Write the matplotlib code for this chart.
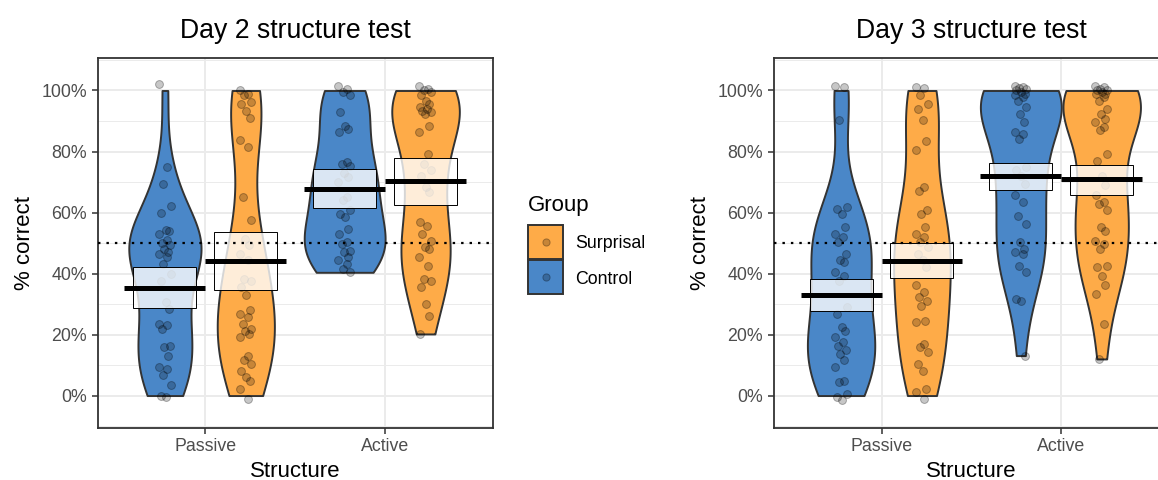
import numpy as np
import matplotlib.pyplot as plt
from matplotlib.patches import Rectangle
from matplotlib.lines import Line2D
from matplotlib.ticker import FuncFormatter

plt.rcParams['font.family'] = ['Liberation Sans', 'DejaVu Sans']

structures = ['Passive', 'Active']
groups = ['Control', 'Surprisal']
legend_order = ['Surprisal', 'Control']
titles = ['Day 2 structure test', 'Day 3 structure test']
colors = {'Control': '#4A87C8', 'Surprisal': '#FEAB48'}

# individual scores (% correct)
d2_passive_control = [102.0, 75.0, 69.4, 62.0, 60.0, 54.3, 53.9, 53.0, 51.0, 50.0, 49.2, 48.0, 47.0, 46.4, 45.4,
                      43.2, 39.9, 37.7, 30.6, 28.4, 23.5, 23.0, 21.9, 16.4, 15.8, 12.9, 9.5, 8.7, 6.6, 3.3,
                      0.0, -0.5]
d2_passive_surprisal = [100.0, 98.9, 98.4, 96.2, 95.6, 93.4, 91.0, 83.9, 81.4, 65.0, 57.6, 51.4, 49.2, 46.4, 44.3,
                        38.3, 37.7, 35.5, 32.8, 27.9, 26.8, 25.7, 23.5, 21.9, 21.3, 20.2, 19.1, 13.1, 11.5, 10.4,
                        8.2, 6.0, 4.9, 2.2, -1.1]
d2_active_control = [101.6, 100.5, 99.5, 98.4, 92.9, 88.5, 87.4, 86.3, 76.5, 76.0, 75.4, 73.0, 71.5, 69.9,
                     65.0, 64.0, 60.7, 59.6, 58.5, 54.6, 53.0, 50.3, 49.7, 47.5, 47.0, 45.4, 44.3, 43.2,
                     41.5, 40.4]
d2_active_surprisal = [101.6, 100.5, 100.0, 99.5, 98.4, 96.7, 95.6, 94.5, 93.9, 93.4, 92.9, 92.3, 88.5, 86.3,
                       79.2, 76.0, 73.8, 72.1, 68.3, 66.7, 56.8, 55.7, 53.0, 50.8, 48.6, 48.1, 45.4, 42.6,
                       38.3, 37.7, 35.5, 30.0, 26.2, 20.2]
d3_passive_control = [101.6, 101.1, 90.2, 61.7, 61.2, 59.6, 55.4, 53.0, 51.9, 50.3, 46.4, 44.3, 43.7, 40.4,
                      39.3, 37.7, 29.0, 26.8, 22.4, 21.3, 19.1, 17.5, 16.4, 14.8, 13.7, 11.5, 9.3, 4.9, 4.4,
                      0.5, -0.5, -1.6]
d3_passive_surprisal = [101.3, 100.9, 98.4, 95.6, 94.0, 90.2, 83.6, 80.5, 68.5, 67.2, 60.7, 59.6, 55.2, 53.0,
                        51.9, 50.3, 48.6, 46.4, 44.3, 42.1, 36.1, 33.9, 32.2, 31.1, 29.5, 24.6, 24.0, 16.9,
                        15.8, 14.2, 10.4, 8.2, 2.2, 1.1, -1.1]
d3_active_control = [101.6, 101.1, 100.9, 100.5, 100.0, 99.5, 99.0, 98.4, 97.8, 96.7, 94.5, 92.3, 89.6, 86.3,
                     85.8, 84.2, 74.9, 73.8, 72.1, 69.4, 65.6, 63.4, 59.0, 56.3, 50.3, 48.1, 47.0, 46.4,
                     42.6, 40.4, 31.7, 31.1, 13.1]
d3_active_surprisal = [101.6, 101.1, 100.5, 100.0, 100.0, 99.5, 99.0, 98.9, 97.8, 96.7, 94.0, 92.3, 90.7, 89.6,
                       88.0, 86.9, 79.2, 77.0, 72.1, 68.9, 65.6, 63.4, 62.8, 60.7, 55.2, 54.1, 50.8, 49.7,
                       48.1, 42.6, 42.1, 39.3, 36.1, 33.3, 23.5, 12.0]

# group means and interval bounds, order: Passive-Control, Passive-Surprisal, Active-Control, Active-Surprisal
d2_means = [35.3, 44.0, 67.7, 70.3]
d2_low = [28.6, 34.6, 61.4, 62.6]
d2_high = [42.2, 53.5, 74.2, 78.0]
d3_means = [32.9, 44.2, 71.9, 70.9]
d3_low = [27.6, 38.4, 67.4, 65.9]
d3_high = [38.2, 50.0, 76.3, 75.6]

chance = 50

panels = [
    {'scores': [d2_passive_control, d2_passive_surprisal, d2_active_control, d2_active_surprisal],
     'means': d2_means, 'low': d2_low, 'high': d2_high},
    {'scores': [d3_passive_control, d3_passive_surprisal, d3_active_control, d3_active_surprisal],
     'means': d3_means, 'low': d3_low, 'high': d3_high},
]

jit = np.array([-1.0, 0.4, -0.3, 0.9, -0.7, 0.1, 0.6, -0.9, 0.3, -0.5, 0.8, -0.1, 0.5]) * 0.035
pt_face = (0, 0, 0, 0.22)
pt_edge = (0, 0, 0, 0.3)


def kde(vals):
    v = np.clip(np.asarray(vals, float), 0, 100)
    n = len(v)
    iqr = np.subtract(*np.percentile(v, [75, 25]))
    bw = 0.9 * min(v.std(ddof=1), iqr / 1.34) * n ** -0.2
    y = np.linspace(v.min(), v.max(), 512)
    d = np.exp(-0.5 * ((y[:, None] - v[None, :]) / bw) ** 2).sum(1) / (n * bw * np.sqrt(2 * np.pi))
    return y, d


fig = plt.figure(figsize=(11.58, 4.8), dpi=100)
ax_pos = [[0.0842, 0.1092, 0.3415, 0.769], [0.6681, 0.1092, 0.3415, 0.769]]

for p, panel in enumerate(panels):
    ax = fig.add_axes(ax_pos[p])
    curves = [kde(s) for s in panel['scores']]
    dmax = max(c[1].max() for c in curves)
    k = 0
    for i, st in enumerate(structures):
        for j, g in enumerate(groups):
            xc = i + 1 + (-0.225 if j == 0 else 0.225)
            y, d = curves[k]
            hw = 0.225 * d / dmax
            ax.fill_betweenx(y, xc - hw, xc + hw, facecolor=colors[g], edgecolor='#333333',
                             lw=1.4, zorder=2)
            s = np.asarray(panel['scores'][k])
            xs = xc + np.resize(jit, len(s))
            ax.scatter(xs, s, s=32, facecolor=pt_face, edgecolor=pt_edge, lw=0.7, zorder=3)
            lo, hi = panel['low'][k], panel['high'][k]
            ax.add_patch(Rectangle((xc - 0.175, lo), 0.35, hi - lo, facecolor=(1, 1, 1, 0.8),
                                   edgecolor='black', lw=0.7, zorder=4))
            ax.plot([xc - 0.225, xc + 0.225], [panel['means'][k]] * 2, color='black',
                    lw=3.6, solid_capstyle='butt', zorder=5)
            k += 1

    ax.axhline(chance, color='black', lw=1.6, ls=(0, (1.1, 2.7)), zorder=6)

    ax.set_xlim(0.4, 2.6)
    ax.set_ylim(-10.5, 110.5)
    ax.set_xticks([1, 2])
    ax.set_xticklabels(structures)
    ax.set_yticks([0, 20, 40, 60, 80, 100])
    ax.set_yticks([-10, 10, 30, 50, 70, 90, 110], minor=True)
    ax.yaxis.set_major_formatter(FuncFormatter(lambda v, _: f'{int(v)}%'))
    ax.grid(True, which='major', color='#EBEBEB', lw=1.4, zorder=0)
    ax.grid(True, which='minor', axis='y', color='#EBEBEB', lw=0.7, zorder=0)
    ax.set_axisbelow(True)
    ax.tick_params(which='major', length=4, width=1.1, color='#333333', labelcolor='#4D4D4D',
                   labelsize=12.8, pad=3.5)
    ax.tick_params(which='minor', length=0)
    for sp in ax.spines.values():
        sp.set_color('#333333')
        sp.set_linewidth(1.3)
    ax.set_xlabel('Structure', fontsize=16, labelpad=4)
    ax.set_ylabel('% correct', fontsize=16, labelpad=5)
    ax.set_title(titles[p], fontsize=19.2, pad=15)

# legend, laid out by hand in figure pixels
W, H = 1158, 480
fig.text(528 / W, 1 - 211 / H, 'Group', fontsize=16, ha='left', va='baseline')
key_tops = [225, 260]
for g, top in zip(legend_order, key_tops):
    fig.add_artist(Rectangle((528 / W, 1 - (top + 34) / H), 35 / W, 34 / H, transform=fig.transFigure,
                             facecolor=colors[g], edgecolor='#333333', lw=1.4))
    fig.add_artist(Line2D([545.5 / W], [1 - (top + 17) / H], transform=fig.transFigure, marker='o',
                          ls='none', ms=5.2, markerfacecolor=pt_face, markeredgecolor=pt_edge, mew=0.7))
    fig.text(575 / W, 1 - (top + 23.5) / H, g, fontsize=12.8, ha='left', va='baseline')

fig.savefig('out.png', dpi=100)
